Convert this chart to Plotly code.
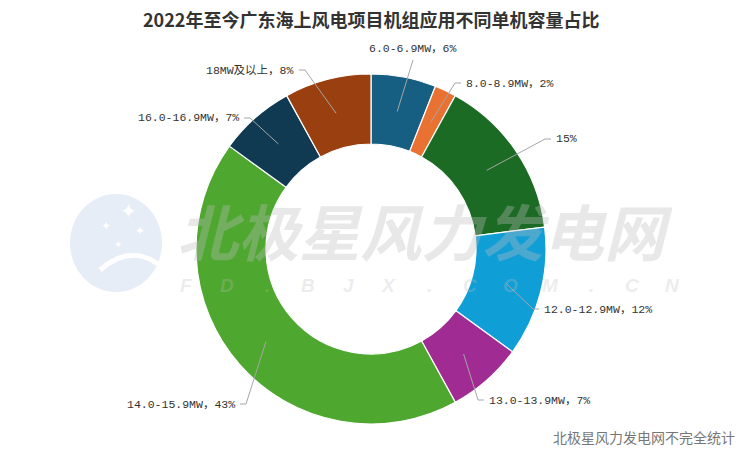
import math

import plotly.graph_objects as go

# data
CATEGORIES = ["6.0-6.9MW", "8.0-8.9MW", "10.0-11.9MW", "12.0-12.9MW",
              "13.0-13.9MW", "14.0-15.9MW", "16.0-16.9MW", "18MW及以上"]
SHARES = [6, 2, 15, 12, 7, 43, 7, 8]
SHOW_NAME = [True, True, False, True, True, True, True, True]
COLORS = ["#165f83", "#e97132", "#1b6b25", "#109ed6",
          "#a02b93", "#4ea72e", "#0f3a51", "#993f10"]

TITLE = "2022年至今广东海上风电项目机组应用不同单机容量占比"
SOURCE = "北极星风力发电网不完全统计"

# layout (pixels)
W, H = 742, 464
CX, CY, R_OUT, HOLE = 371, 249, 175, 0.6
# elbow of each leader line and where the text sits
LABEL_ANCHORS = [(413, 60, "up"), (455, 83, "right"), (545, 139, "right"),
                 (533, 309, "right"), (478, 400, "right"), (246, 404, "left"),
                 (250, 118, "left"), (305, 70, "left")]
LINE_COLOR = "#a6a6a6"
LABEL_FONT = dict(family="Liberation Mono, Noto Sans CJK SC", size=11.5, color="#333333")


def px(x):
    return x / W


def py(y):
    return 1 - y / H


fig = go.Figure(go.Pie(
    labels=CATEGORIES,
    values=SHARES,
    sort=False,
    direction="clockwise",
    rotation=0,
    hole=HOLE,
    textinfo="none",
    marker=dict(colors=COLORS, line=dict(color="white", width=1.2)),
    domain=dict(x=[px(CX - R_OUT), px(CX + R_OUT)], y=[py(CY + R_OUT), py(CY - R_OUT)]),
    showlegend=False,
))

shapes = []
annotations = []
total = sum(SHARES)
cum = 0
r_mid = R_OUT * (1 + HOLE) / 2
for cat, val, show, (ex, ey, side) in zip(CATEGORIES, SHARES, SHOW_NAME, LABEL_ANCHORS):
    ang = math.radians((cum + val / 2) / total * 360)
    cum += val
    sx, sy = CX + r_mid * math.sin(ang), CY - r_mid * math.cos(ang)
    text = f"{cat}，{val}%" if show else f"{val}%"
    if side == "up":
        path = f"M {px(sx)},{py(sy)} L {px(ex)},{py(ey)}"
        annotations.append(dict(x=px(ex), y=py(ey - 3), xanchor="center", yanchor="bottom",
                                text=text, showarrow=False, font=LABEL_FONT))
    else:
        sgn = 1 if side == "right" else -1
        hx = ex + sgn * 6
        path = f"M {px(sx)},{py(sy)} L {px(ex)},{py(ey)} L {px(hx)},{py(ey)}"
        annotations.append(dict(x=px(hx + sgn * 3), y=py(ey), xanchor="left" if sgn > 0 else "right",
                                yanchor="middle", text=text, showarrow=False, font=LABEL_FONT))
    shapes.append(dict(type="path", path=path, xref="paper", yref="paper",
                       line=dict(color=LINE_COLOR, width=1)))

# watermark logo
shapes.append(dict(type="circle", xref="paper", yref="paper", layer="above",
                   x0=px(70), x1=px(162), y0=py(292), y1=py(194),
                   fillcolor="rgba(220,230,242,0.7)", line=dict(width=0)))
for sx_, sy_, sz in [(128, 210, 20), (106, 226, 12), (140, 230, 12), (118, 244, 10)]:
    annotations.append(dict(x=px(sx_), y=py(sy_), text="✦", showarrow=False,
                            xanchor="center", yanchor="middle",
                            font=dict(size=sz, color="white")))
shapes.append(dict(type="path", xref="paper", yref="paper", layer="above",
                   path=f"M {px(100)},{py(270)} Q {px(130)},{py(244)} {px(158)},{py(264)}",
                   line=dict(color="white", width=5)))

annotations.append(dict(x=px(425), y=py(229), text="<b><i>北极星风力发电网</i></b>", showarrow=False,
                        xanchor="center", yanchor="middle",
                        font=dict(family="Noto Sans CJK SC", size=61, color="rgba(190,190,190,0.35)")))
for i, ch in enumerate("FD.BJX.COM.CN"):
    annotations.append(dict(x=px(186 + i * 40.5), y=py(285), text=f"<b><i>{ch}</i></b>", showarrow=False,
                            xanchor="center", yanchor="middle",
                            font=dict(family="Arial, Liberation Sans", size=19,
                                      color="rgba(190,190,190,0.28)")))

annotations.append(dict(x=px(371), y=py(19), text=f"<b>{TITLE}</b>", showarrow=False,
                        xanchor="center", yanchor="middle",
                        font=dict(family="Noto Sans CJK SC", size=18, color="#333333")))
annotations.append(dict(x=px(737), y=py(437), xanchor="right", yanchor="middle", text=SOURCE,
                        showarrow=False,
                        font=dict(family="Noto Sans CJK SC", size=14, color="#777777")))

fig.update_layout(
    width=W,
    height=H,
    margin=dict(l=0, r=0, t=0, b=0),
    paper_bgcolor="white",
    plot_bgcolor="white",
    shapes=shapes,
    annotations=annotations,
)

fig.write_html("out.html", config={"displayModeBar": False},
               post_script="document.body.style.margin='0';")
